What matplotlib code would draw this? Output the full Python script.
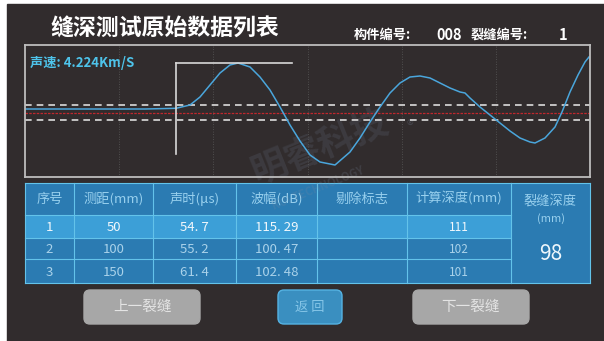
import numpy as np
import matplotlib
matplotlib.use('Agg')
import matplotlib.pyplot as plt
from matplotlib.patches import Rectangle, FancyBboxPatch

plt.rcParams['font.family'] = ['Noto Sans CJK SC', 'DejaVu Sans']

# waveform (sample index, amplitude)
wave_t = [0, 60, 120, 151, 165, 175, 185, 195, 205, 213, 225, 235, 245, 255,
          265, 275, 285, 295, 310, 325, 335, 345, 355, 365, 375, 385, 395,
          405, 415, 425, 435, 440, 445, 455, 465, 475, 485, 495, 505, 510,
          520, 530, 537, 545, 553, 560, 564]
wave_a = [0, 0, 0, 0.7, 4, 12, 24, 36, 44, 46, 42, 32, 19, 2,
          -16, -32, -46, -53, -56, -43, -29, -13, 2, 16, 26, 32, 33,
          31, 26, 21, 17, 16, 11, 2, -6, -14, -22, -29, -33, -34,
          -29, -18, -3, 17, 34, 47, 52]

gate_t = [151, 267]
gate_top, gate_bottom = 46, -45
dash_levels = [4, -11]
center_level = -4
grid_t = [94, 188, 283, 377, 471]

velocity = 4.224
member_no = '008'
crack_no = 1

col_names = ['序号', '测距(mm)', '声时(μs)', '波幅(dB)', '剔除标志', '计算深度(mm)']
seq = [1, 2, 3]
dist = [50, 100, 150]
times = [54.7, 55.2, 61.4]
amps = [115.29, 100.47, 102.48]
flags = ['', '', '']
depths = [111, 102, 101]
crack_depth = 98
buttons = ['上一裂缝', '返 回', '下一裂缝']

BG = '#312c2d'
fig = plt.figure(figsize=(6.04, 3.41), dpi=100)
fig.patch.set_facecolor('white')
ui = fig.add_axes([0, 0, 1, 1])
ui.set_xlim(0, 604)
ui.set_ylim(341, 0)
ui.axis('off')
ui.add_patch(Rectangle((7, 4), 597, 337, color=BG, zorder=0))

# title + header info
ui.text(165, 29, '缝深测试原始数据列表', fontsize=16.5, weight='bold',
        color='white', ha='center', va='center')
hdr = dict(weight='bold', color='white', va='center')
ui.text(354, 35, '构件编号:', ha='left', fontsize=9.5, **hdr)
ui.text(436, 35, member_no, ha='left', fontsize=10.5, **hdr)
ui.text(471, 35, '裂缝编号:', ha='left', fontsize=9.5, **hdr)
ui.text(567, 35, str(crack_no), ha='right', fontsize=10.5, **hdr)

# waveform panel
ax = fig.add_axes([25 / 604, 1 - 177 / 341, 565 / 604, 132 / 341])
ax.set_facecolor('none')
ax.set_xlim(0, 565)
ax.set_ylim(-68, 64)
for s in ax.spines.values():
    s.set_color('#bdbdbd')
    s.set_linewidth(1.3)
ax.set_xticks([])
ax.set_yticks([])
for g in grid_t:
    ax.axvline(g, color='#5a5a5a', lw=0.6, ls=(0, (1, 2)))
for lv in dash_levels:
    ax.axhline(lv, color='#dcdcdc', lw=1.2, ls=(0, (4, 3)))
ax.axhline(center_level, color='#c0282d', lw=0.9, ls=(0, (2, 1)))
ax.plot(wave_t, wave_a, color='#4aa6dc', lw=1.1)
ax.plot([gate_t[0], gate_t[0]], [gate_bottom, gate_top], color='#d8d8d8', lw=1.2)
ax.plot(gate_t, [gate_top, gate_top], color='#d8d8d8', lw=1.2)
ui.text(30, 63, f'声速: {velocity:.3f}Km/S', fontsize=9.5, weight='bold',
        color='#4ec3ea', ha='left', va='center')

# table
col_x = [25, 74, 153, 236, 317, 407, 511, 590]
row_y = [183, 215, 238, 259, 283]
line_c = '#63c3ea'
cell_c = '#2b7bb2'
hi_c = '#3c9fd7'
ui.add_patch(Rectangle((col_x[0], row_y[0]), col_x[-1] - col_x[0], row_y[-1] - row_y[0],
                       facecolor=cell_c, edgecolor='none', zorder=1))
ui.add_patch(Rectangle((col_x[0], row_y[1]), col_x[6] - col_x[0], row_y[2] - row_y[1],
                       facecolor=hi_c, edgecolor='none', zorder=1))
for xv in col_x:
    ui.plot([xv, xv], [row_y[0], row_y[-1]], color=line_c, lw=0.8, zorder=2)
for yv in row_y:
    ui.plot([col_x[0], col_x[6]], [yv, yv], color=line_c, lw=0.8, zorder=2)
ui.plot([col_x[6], col_x[-1]], [row_y[0], row_y[0]], color=line_c, lw=0.8, zorder=2)
ui.plot([col_x[6], col_x[-1]], [row_y[-1], row_y[-1]], color=line_c, lw=0.8, zorder=2)

mid_x = [(a + b) / 2 for a, b in zip(col_x[:-1], col_x[1:])]
head_y = (row_y[0] + row_y[1]) / 2
for cx, name in zip(mid_x, col_names):
    ui.text(cx, head_y, name, fontsize=9.5, color='#98d0ee', ha='center',
            va='center', zorder=3)
ui.text(mid_x[6], 201, '裂缝深度', fontsize=9.5, color='#98d0ee', ha='center',
        va='center', zorder=3)
ui.text(mid_x[6], 219, '(mm)', fontsize=8, color='#98d0ee', ha='center',
        va='center', zorder=3)
ui.text(mid_x[6], 254, str(crack_depth), fontsize=15, color='#eef7fc', ha='center',
        va='center', zorder=3)

def fmt(v, d):
    return f'{v:.{d}f}'.replace('.', '. ')

for i in range(len(seq)):
    cy = (row_y[i + 1] + row_y[i + 2]) / 2
    tc = '#f2f8fc' if i == 0 else '#a9d2ea'
    vals = [str(seq[i]), str(dist[i]), fmt(times[i], 1), fmt(amps[i], 2),
            flags[i], str(depths[i])]
    for k, (cx, v) in enumerate(zip(mid_x, vals)):
        ui.text(cx, cy + 1, v, fontsize=9.5 if k < 4 else 8.5, color=tc,
                ha='center', va='center', zorder=3)

# buttons
btn_x = [(84, 200), (278, 342), (413, 529)]
btn_fc = ['#a7a7a7', '#3a8fc0', '#a7a7a7']
btn_ec = ['#a7a7a7', '#55b3e3', '#a7a7a7']
btn_tc = ['#e4e4e4', '#86c6e8', '#e4e4e4']
for (x0, x1), lab, fc, ec, tc in zip(btn_x, buttons, btn_fc, btn_ec, btn_tc):
    ui.add_patch(FancyBboxPatch((x0, 290), x1 - x0, 34,
                                boxstyle='round,pad=0,rounding_size=6',
                                facecolor=fc, edgecolor=ec, lw=1, zorder=1))
    ui.text((x0 + x1) / 2, 307, lab, fontsize=10.5 if fc != '#3a8fc0' else 9.5,
            color=tc, ha='center', va='center', zorder=3)

# faint watermark
ui.text(320, 148, '明睿科技', fontsize=26, weight='bold', color='#7c8aa0',
        alpha=0.16, rotation=22, ha='center', va='center', zorder=5)
ui.text(410, 127, '®', fontsize=10, color='#7c8aa0', alpha=0.25,
        ha='center', va='center', zorder=5)
ui.text(318, 188, 'RUI TECHNOLOGY', fontsize=8, weight='bold', color='#7c8aa0',
        alpha=0.2, rotation=22, ha='center', va='center', zorder=5)

fig.savefig('out.png', dpi=100, facecolor=fig.get_facecolor())
